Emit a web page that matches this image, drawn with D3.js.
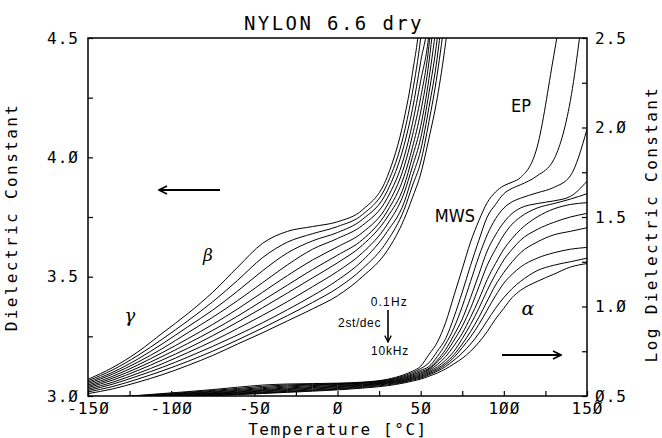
<!DOCTYPE html>
<html>
<head>
<meta charset="utf-8">
<script src="https://cdn.jsdelivr.net/npm/d3@7"></script>
<style>
  body { margin: 0; background: #fff; }
  .mono { font-family: "DejaVu Sans Mono", monospace; }
  .note { font-family: "Liberation Sans", Arial, sans-serif; }
  .narrow { font-family: "Liberation Sans Narrow", "DejaVu Sans Condensed", "Liberation Sans", sans-serif; }
  .greek { font-family: "DejaVu Serif", serif; font-style: italic; }
</style>
</head>
<body>
<div id="mainDiv"></div>
<script>
'use strict';

// temperatura de cada ponto medido (°C)
var temps = [-150, -135, -120, -105, -90, -75, -60, -45, -30, -15, 0, 15, 30, 40, 45, 50,
  55, 60, 65, 70, 75, 80, 85, 90, 95, 100, 105, 110, 120, 130, 140, 150];

// constante dielétrica, uma série por frequência (0.1 Hz ... 10 kHz, 2 passos/década)
var eps_0_1Hz = [3.07, 3.12, 3.185, 3.265, 3.345, 3.435, 3.54, 3.64, 3.69, 3.71, 3.73, 3.78, 3.92, 4.16, 4.35, 4.64,
  5.4, 6.31, 8.13, 11.48, 16.22, 22.91, 30.2, 38.02, 43.65, 47.3, 49.5, 52.48, 77.62, 251.2, 891, 2512];
var eps_0_3Hz = [3.064, 3.11, 3.17, 3.24, 3.315, 3.395, 3.485, 3.58, 3.645, 3.68, 3.71, 3.76, 3.89, 4.10, 4.27, 4.50,
  4.85, 5.62, 6.61, 8.71, 12.02, 16.98, 23.44, 31.62, 37.15, 42.66, 45.71, 47.86, 53.7, 66.07, 141.3, 708];
var eps_1Hz = [3.058, 3.10, 3.155, 3.22, 3.29, 3.36, 3.44, 3.525, 3.60, 3.65, 3.685, 3.74, 3.86, 4.05, 4.20, 4.40,
  4.62, 5.25, 6.17, 7.59, 10.0, 13.8, 19.05, 25.12, 30.9, 35.48, 38.46, 40.27, 43.15, 46.24, 53.7, 97.7];
var eps_3Hz = [3.052, 3.092, 3.142, 3.20, 3.265, 3.33, 3.40, 3.475, 3.55, 3.615, 3.66, 3.715, 3.83, 4.00, 4.14, 4.32,
  4.52, 5.01, 5.75, 6.92, 8.51, 11.22, 15.14, 20.42, 25.12, 29.51, 33.11, 35.48, 37.58, 38.9, 41.21, 50.12];
var eps_10Hz = [3.046, 3.083, 3.13, 3.183, 3.24, 3.30, 3.365, 3.435, 3.505, 3.57, 3.625, 3.685, 3.80, 3.96, 4.09, 4.25,
  4.47, 4.90, 5.50, 6.46, 7.76, 9.77, 12.88, 16.98, 20.89, 25.12, 28.84, 31.62, 35.48, 37.58, 39.81, 42.66];
var eps_30Hz = [3.04, 3.075, 3.118, 3.167, 3.22, 3.275, 3.335, 3.40, 3.465, 3.53, 3.59, 3.655, 3.775, 3.92, 4.04, 4.19,
  4.40, 4.74, 5.25, 6.03, 7.08, 8.71, 10.96, 14.13, 17.38, 20.89, 23.99, 26.92, 31.62, 35.08, 37.15, 38.02];
var eps_100Hz = [3.035, 3.067, 3.107, 3.152, 3.20, 3.253, 3.31, 3.37, 3.432, 3.495, 3.558, 3.632, 3.75, 3.88, 4.00, 4.13,
  4.33, 4.60, 5.01, 5.62, 6.61, 7.94, 9.77, 12.3, 15.14, 18.2, 20.89, 23.44, 26.92, 29.51, 31.62, 33.11];
var eps_300Hz = [3.029, 3.058, 3.095, 3.136, 3.182, 3.23, 3.283, 3.338, 3.396, 3.458, 3.522, 3.60, 3.72, 3.85, 3.96, 4.08,
  4.27, 4.50, 4.85, 5.37, 6.17, 7.24, 8.71, 10.72, 13.18, 15.49, 17.78, 19.95, 22.91, 25.12, 26.3, 27.54];
var eps_1kHz = [3.023, 3.05, 3.084, 3.121, 3.163, 3.208, 3.256, 3.307, 3.362, 3.42, 3.485, 3.567, 3.69, 3.81, 3.92, 4.03,
  4.21, 4.42, 4.74, 5.19, 5.89, 6.76, 7.94, 9.55, 11.48, 13.49, 15.14, 16.6, 18.62, 19.95, 20.89, 21.38];
var eps_3kHz = [3.017, 3.04, 3.071, 3.106, 3.145, 3.188, 3.235, 3.285, 3.337, 3.392, 3.452, 3.533, 3.65, 3.78, 3.88, 3.98,
  4.15, 4.35, 4.62, 5.01, 5.50, 6.17, 7.08, 8.32, 9.77, 11.22, 12.59, 13.8, 15.85, 17.0, 17.78, 18.62];
var eps_10kHz = [3.01, 3.03, 3.058, 3.09, 3.128, 3.17, 3.218, 3.265, 3.315, 3.365, 3.42, 3.50, 3.61, 3.74, 3.83, 3.93,
  4.08, 4.25, 4.48, 4.78, 5.13, 5.62, 6.31, 7.24, 8.51, 9.77, 11.22, 12.3, 13.8, 15.14, 16.6, 17.38];

var freqs = ['0.1Hz', '0.3Hz', '1Hz', '3Hz', '10Hz', '30Hz', '100Hz', '300Hz', '1kHz', '3kHz', '10kHz'];
var series = [eps_0_1Hz, eps_0_3Hz, eps_1Hz, eps_3Hz, eps_10Hz, eps_30Hz, eps_100Hz, eps_300Hz, eps_1kHz, eps_3kHz, eps_10kHz];

// ticks
var xTicks = [-150, -125, -100, -75, -50, -25, 0, 25, 50, 75, 100, 125, 150];
var xLabels = [-150, -100, -50, 0, 50, 100, 150];
var yTicks = [3.0, 3.25, 3.5, 3.75, 4.0, 4.25, 4.5];
var yLabels = [3.0, 3.5, 4.0, 4.5];
var logTicks = [0.5, 0.75, 1.0, 1.25, 1.5, 1.75, 2.0, 2.25, 2.5];
var logLabels = [0.5, 1.0, 1.5, 2.0, 2.5];

var chart = {};
chart.margins = {top: 38, bottom: 42, left: 88, right: 75};
chart.w = 662 - chart.margins.left - chart.margins.right;
chart.h = 438 - chart.margins.top - chart.margins.bottom;

// troca o zero por Ø como no plotter
chart.fmt = function(v, n) { return v.toFixed(n).replace(/0/g, '\u00d8'); };

chart.run = function()
{
    var m = chart.margins, w = chart.w, h = chart.h;

    var svg = d3.select('#mainDiv').append('svg')
        .attr('width', 662)
        .attr('height', 438);

    var g = svg.append('g')
        .attr('transform', 'translate(' + m.left + ',' + m.top + ')');

    var x = d3.scaleLinear().domain([-150, 150]).range([0, w]);
    var yLin = d3.scaleLinear().domain([3.0, 4.5]).range([h, 0]);
    var yLog = d3.scaleLog().domain([Math.pow(10, 0.5), Math.pow(10, 2.5)]).range([h, 0]);

    svg.append('clipPath').attr('id', 'plotClip')
        .append('rect').attr('width', w).attr('height', h);

    var area = g.append('g').attr('clip-path', 'url(#plotClip)');

    var data = series.map(function(s, k) {
        return { freq: freqs[k], pts: temps.map(function(t, i) { return {t: t, e: s[i]}; }) };
    });

    var lineLin = d3.line()
        .x(function(d) { return x(d.t); })
        .y(function(d) { return yLin(d.e); })
        .curve(d3.curveMonotoneX);

    var lineLog = d3.line()
        .x(function(d) { return x(d.t); })
        .y(function(d) { return yLog(d.e); })
        .curve(d3.curveMonotoneX);

    // curvas na escala linear (eixo esquerdo)
    area.selectAll('path.lin')
        .data(data)
        .enter().append('path')
        .attr('class', 'lin')
        .attr('d', function(d) { return lineLin(d.pts.filter(function(p) { return p.t <= 75; })); })
        .attr('fill', 'none')
        .attr('stroke', '#000')
        .attr('stroke-width', 1);

    // curvas na escala log (eixo direito)
    area.selectAll('path.log')
        .data(data)
        .enter().append('path')
        .attr('class', 'log')
        .attr('d', function(d) { return lineLog(d.pts); })
        .attr('fill', 'none')
        .attr('stroke', '#000')
        .attr('stroke-width', 1);

    // moldura
    g.append('rect')
        .attr('width', w).attr('height', h)
        .attr('fill', 'none').attr('stroke', '#000').attr('stroke-width', 1.5);

    // eixos
    var xAxis = d3.axisBottom(x).tickValues(xTicks).tickSizeInner(-5).tickSizeOuter(0).tickPadding(7)
        .tickFormat(function(d) { return xLabels.indexOf(d) >= 0 ? chart.fmt(d, 0) : ''; });
    var yAxis = d3.axisLeft(yLin).tickValues(yTicks).tickSizeInner(-5).tickSizeOuter(0).tickPadding(9)
        .tickFormat(function(d) { return yLabels.indexOf(d) >= 0 ? chart.fmt(d, 1) : ''; });
    var rAxis = d3.axisRight(yLog).tickValues(logTicks.map(function(v) { return Math.pow(10, v); }))
        .tickSizeInner(-5).tickSizeOuter(0).tickPadding(8)
        .tickFormat(function(d) {
            var v = Math.round(Math.log10(d) * 100) / 100;
            return logLabels.indexOf(v) >= 0 ? chart.fmt(v, 1) : '';
        });

    var axes = [
        g.append('g').attr('transform', 'translate(0,' + h + ')').call(xAxis),
        g.append('g').call(yAxis),
        g.append('g').attr('transform', 'translate(' + w + ',0)').call(rAxis)
    ];
    axes.forEach(function(a) {
        a.select('.domain').remove();
        a.selectAll('line').attr('stroke', '#000').attr('stroke-width', 1.2);
        a.selectAll('text')
            .attr('class', 'mono')
            .attr('font-size', 16)
            .attr('letter-spacing', 1)
            .attr('fill', '#000');
    });

    // títulos
    svg.append('text').attr('class', 'mono')
        .attr('x', 334).attr('y', 30)
        .attr('text-anchor', 'middle').attr('font-size', 19).attr('letter-spacing', 2.4)
        .text('NYLON 6.6 dry');

    svg.append('text').attr('class', 'mono')
        .attr('x', 338).attr('y', 435)
        .attr('text-anchor', 'middle').attr('font-size', 16).attr('letter-spacing', 1.6)
        .text('Temperature [\u00b0C]');

    svg.append('text').attr('class', 'mono')
        .attr('transform', 'translate(17,217) rotate(-90)')
        .attr('text-anchor', 'middle').attr('font-size', 16).attr('letter-spacing', 2.4)
        .text('Dielectric Constant');

    svg.append('text').attr('class', 'mono')
        .attr('transform', 'translate(657,224) rotate(-90)')
        .attr('text-anchor', 'middle').attr('font-size', 16).attr('letter-spacing', 2.4)
        .text('Log Dielectric Constant');

    // anotações
    var notes = [
        {txt: 'MWS', x: 455, y: 222, cls: 'narrow', size: 18, ls: 0, anchor: 'middle'},
        {txt: 'EP', x: 521, y: 112, cls: 'narrow', size: 18, ls: 0, anchor: 'middle'},
        {txt: '0.1Hz', x: 408, y: 306, cls: 'note', size: 12, ls: 1.2, anchor: 'end'},
        {txt: '2st/dec', x: 381, y: 327, cls: 'note', size: 12, ls: 0.6, anchor: 'end'},
        {txt: '10kHz', x: 409, y: 355, cls: 'note', size: 12, ls: 0.8, anchor: 'end'},
        {txt: '\u03b3', x: 130, y: 322, cls: 'greek', size: 18, ls: 0, anchor: 'middle'},
        {txt: '\u03b2', x: 208, y: 261, cls: 'greek', size: 17, ls: 0, anchor: 'middle'},
        {txt: '\u03b1', x: 528, y: 315, cls: 'greek', size: 19, ls: 0, anchor: 'middle'}
    ];
    svg.selectAll('text.ann')
        .data(notes)
        .enter().append('text')
        .attr('class', function(d) { return 'ann ' + d.cls; })
        .attr('x', function(d) { return d.x; })
        .attr('y', function(d) { return d.y; })
        .attr('text-anchor', function(d) { return d.anchor; })
        .attr('font-size', function(d) { return d.size; })
        .attr('letter-spacing', function(d) { return d.ls; })
        .text(function(d) { return d.txt; });

    // setas
    var defs = svg.append('defs');
    defs.append('marker').attr('id', 'head')
        .attr('viewBox', '0 0 10 10').attr('refX', 9).attr('refY', 5)
        .attr('markerWidth', 5).attr('markerHeight', 5).attr('orient', 'auto-start-reverse')
        .append('path').attr('d', 'M1,1 L9,5 L1,9').attr('fill', 'none').attr('stroke', '#000').attr('stroke-width', 1.6);

    var arrows = [
        {x1: 220, y1: 190, x2: 159, y2: 190, sw: 2},
        {x1: 502, y1: 355, x2: 561, y2: 355, sw: 2},
        {x1: 388, y1: 310, x2: 388, y2: 342, sw: 1.6}
    ];
    svg.selectAll('line.arrow')
        .data(arrows)
        .enter().append('line')
        .attr('class', 'arrow')
        .attr('x1', function(d) { return d.x1; }).attr('y1', function(d) { return d.y1; })
        .attr('x2', function(d) { return d.x2; }).attr('y2', function(d) { return d.y2; })
        .attr('stroke', '#000').attr('stroke-width', function(d) { return d.sw; })
        .attr('marker-end', 'url(#head)');
};

window.onload = chart.run;
</script>
</body>
</html>
